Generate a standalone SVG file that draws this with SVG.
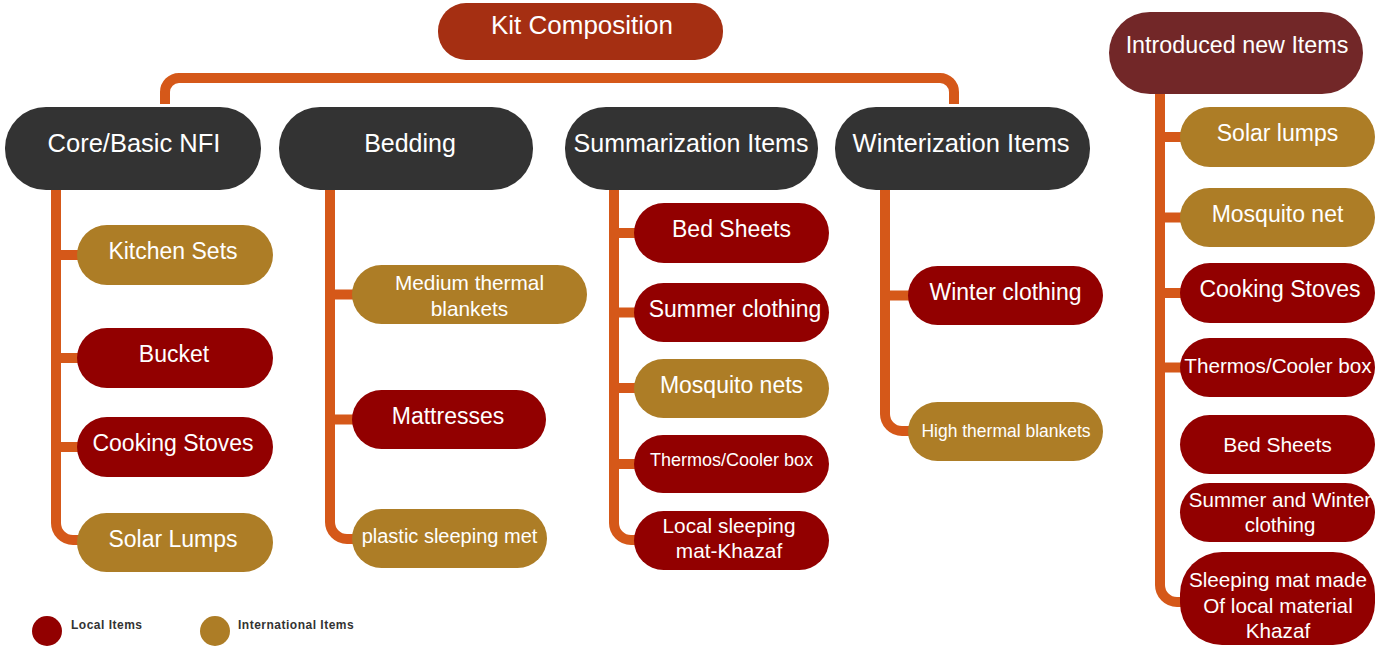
<svg xmlns="http://www.w3.org/2000/svg" width="1384" height="648" viewBox="0 0 1384 648">
<style>
.t{font-family:"Liberation Sans",Arial,sans-serif;fill:#ffffff;text-anchor:middle}
.cat{fill:#333333}
.loc{fill:#920000}
.int{fill:#AD7D26}
.c{fill:none;stroke:#D55819;stroke-width:10}
.lg{font-family:"Liberation Sans",Arial,sans-serif;font-weight:bold;font-size:12px;letter-spacing:0.5px;fill:#333333}
</style>
<rect width="1384" height="648" fill="#ffffff"/>
<g id="connectors">
<path class="c" d="M165,104 V92 A14,14 0 0 1 179,78 H940 A14,14 0 0 1 954,92 V104"/>
<path class="c" d="M56,186 V523 A17,17 0 0 0 73,540 H82 M56,255 H82 M56,358 H82 M56,447 H82"/>
<path class="c" d="M330,186 V522 A17,17 0 0 0 347,539 H356 M330,294.5 H356 M330,419.5 H356"/>
<path class="c" d="M614,186 V523 A17,17 0 0 0 631,540 H640 M614,233 H640 M614,312.5 H640 M614,388 H640 M614,464 H640"/>
<path class="c" d="M885,186 V414 A17,17 0 0 0 902,431 H912 M885,295.5 H912"/>
<path class="c" d="M1160,90 V585 A17,17 0 0 0 1177,602 H1185 M1160,137 H1185 M1160,217.5 H1185 M1160,293 H1185 M1160,367.5 H1185"/>
</g>
<g id="kit-composition"><rect x="438" y="3" width="285" height="57" rx="28" fill="#A52F12"/><text class="t" x="582" y="34" font-size="26">Kit Composition</text></g>
<g id="core"><rect class="cat" x="5" y="107" width="256" height="83" rx="41"/><text class="t" x="134" y="152" font-size="25.5">Core/Basic NFI</text></g>
<g id="bedding"><rect class="cat" x="279" y="107" width="254" height="83" rx="41"/><text class="t" x="410" y="152" font-size="25">Bedding</text></g>
<g id="summarization"><rect class="cat" x="565" y="107" width="253" height="83" rx="41"/><text class="t" x="691" y="152" font-size="25">Summarization Items</text></g>
<g id="winterization"><rect class="cat" x="835" y="107" width="255" height="83" rx="41"/><text class="t" x="961" y="152" font-size="25.5">Winterization Items</text></g>
<g id="introduced"><rect x="1109" y="12" width="254" height="82" rx="41" fill="#722728"/><text class="t" x="1237" y="53" font-size="23.3">Introduced new Items</text></g>

<g id="kitchen-sets"><rect class="int" x="77" y="225" width="196" height="60" rx="30"/><text class="t" x="173" y="259" font-size="23">Kitchen Sets</text></g>
<g id="bucket"><rect class="loc" x="77" y="328" width="196" height="60" rx="30"/><text class="t" x="174" y="362" font-size="23">Bucket</text></g>
<g id="cooking-stoves-1"><rect class="loc" x="77" y="417" width="196" height="60" rx="30"/><text class="t" x="173" y="451" font-size="23">Cooking Stoves</text></g>
<g id="solar-lumps-1"><rect class="int" x="77" y="513" width="196" height="59" rx="29.5"/><text class="t" x="173" y="547" font-size="23">Solar Lumps</text></g>

<g id="medium-thermal"><rect class="int" x="352" y="265" width="235" height="59" rx="29.5"/><text class="t" x="469.5" y="290" font-size="20.8">Medium thermal</text><text class="t" x="469.5" y="316" font-size="20.8">blankets</text></g>
<g id="mattresses"><rect class="loc" x="352" y="390" width="194" height="59" rx="29.5"/><text class="t" x="448" y="424" font-size="23">Mattresses</text></g>
<g id="plastic-mat"><rect class="int" x="352" y="509" width="195" height="59" rx="29.5"/><text class="t" x="449.5" y="543" font-size="20">plastic sleeping met</text></g>

<g id="bed-sheets-1"><rect class="loc" x="634" y="203" width="195" height="60" rx="30"/><text class="t" x="731.5" y="237" font-size="23">Bed Sheets</text></g>
<g id="summer-clothing"><rect class="loc" x="634" y="283" width="195" height="59" rx="29.5"/><text class="t" x="735" y="317" font-size="23">Summer clothing</text></g>
<g id="mosquito-nets"><rect class="int" x="634" y="359" width="195" height="59" rx="29.5"/><text class="t" x="731.5" y="393" font-size="23">Mosquito nets</text></g>
<g id="thermos-1"><rect class="loc" x="634" y="435" width="195" height="58" rx="29"/><text class="t" x="731.5" y="466" font-size="18">Thermos/Cooler box</text></g>
<g id="local-mat"><rect class="loc" x="634" y="511" width="195" height="59" rx="29.5"/><text class="t" x="729" y="533" font-size="20.8">Local sleeping</text><text class="t" x="729" y="558" font-size="20.8">mat-Khazaf</text></g>

<g id="winter-clothing"><rect class="loc" x="908" y="266" width="195" height="59" rx="29.5"/><text class="t" x="1005.5" y="300" font-size="23">Winter clothing</text></g>
<g id="high-thermal"><rect class="int" x="908" y="402" width="195" height="59" rx="29.5"/><text class="t" x="1006" y="437" font-size="17.5">High thermal blankets</text></g>

<g id="solar-lumps-2"><rect class="int" x="1180" y="107" width="195" height="60" rx="30"/><text class="t" x="1277.5" y="141" font-size="23">Solar lumps</text></g>
<g id="mosquito-net"><rect class="int" x="1180" y="188" width="195" height="59" rx="29.5"/><text class="t" x="1277.5" y="222" font-size="23">Mosquito net</text></g>
<g id="cooking-stoves-2"><rect class="loc" x="1180" y="263" width="195" height="60" rx="30"/><text class="t" x="1280" y="297" font-size="23">Cooking Stoves</text></g>
<g id="thermos-2"><rect class="loc" x="1180" y="338" width="195" height="59" rx="29.5"/><text class="t" x="1278" y="373" font-size="20.7">Thermos/Cooler box</text></g>
<g id="bed-sheets-2"><rect class="loc" x="1180" y="415" width="195" height="59" rx="29.5"/><text class="t" x="1277.5" y="452" font-size="21">Bed Sheets</text></g>
<g id="summer-winter"><rect class="loc" x="1180" y="483" width="195" height="59" rx="29.5"/><text class="t" x="1280" y="507" font-size="20.5">Summer and Winter</text><text class="t" x="1280" y="532" font-size="20.5">clothing</text></g>
<g id="sleeping-mat"><rect class="loc" x="1180" y="552" width="195" height="93" rx="42"/><text class="t" x="1278" y="587" font-size="20.7">Sleeping mat made</text><text class="t" x="1278" y="613" font-size="20.7">Of local material</text><text class="t" x="1278" y="638" font-size="20.7">Khazaf</text></g>

<g id="legend">
<circle cx="47" cy="631" r="15" fill="#920000"/><text class="lg" x="71" y="629">Local Items</text>
<circle cx="215" cy="631" r="15" fill="#AD7D26"/><text class="lg" x="238" y="629">International Items</text>
</g>
</svg>
